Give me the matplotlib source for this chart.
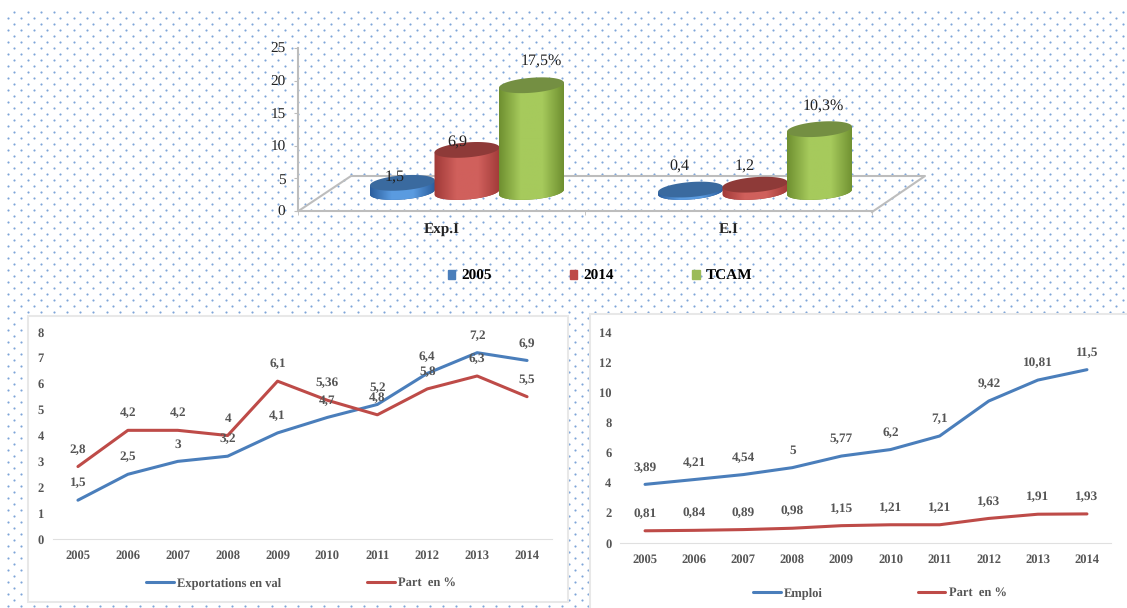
import numpy as np
import matplotlib
matplotlib.use("Agg")
import matplotlib.pyplot as plt
from matplotlib.patches import Patch, Rectangle

plt.rcParams['font.family'] = ['Liberation Serif', 'DejaVu Serif']
plt.rcParams['text.hinting'] = 'none'

W, H = 1127, 608

# top chart
groups = ["Exp.I", "E.I"]
bar_names = ["2005", "2014", "TCAM"]
val_2005 = [1.5, 0.4]
val_2014 = [6.9, 1.2]
val_tcam = [17.5, 10.3]
bar_labels = [["1,5", "0,4"], ["6,9", "1,2"], ["17,5%", "10,3%"]]

# bottom charts
years = list(range(2005, 2015))
export_val = [1.5, 2.5, 3, 3.2, 4.1, 4.7, 5.2, 6.4, 7.2, 6.9]
export_part = [2.8, 4.2, 4.2, 4, 6.1, 5.36, 4.8, 5.8, 6.3, 5.5]
emploi = [3.89, 4.21, 4.54, 5, 5.77, 6.2, 7.1, 9.42, 10.81, 11.5]
emploi_part = [0.81, 0.84, 0.89, 0.98, 1.15, 1.21, 1.21, 1.63, 1.91, 1.93]

BLUE = "#4a7ebb"
RED = "#be4b48"
GREY = "#555555"


def box(left, top, right, bottom, **kw):
    # axes from a box in pixels
    return fig.add_axes([left / W, 1 - bottom / H, (right - left) / W, (bottom - top) / H], **kw)


fig = plt.figure(figsize=(W / 100, H / 100), dpi=100)

# dotted background and white panels, in pixels
bg = box(0, 0, W, H)
bg.set_xlim(0, W)
bg.set_ylim(H, 0)
bg.axis("off")
for n, y in enumerate(np.arange(11.7, H, 6.0)):
    start = 14.3 if n % 2 == 0 else 7.5
    xs = np.arange(start, W, 13.2)
    bg.scatter(xs, [y] * len(xs), s=2.4, color="#7ea5d8", linewidths=0, zorder=1)
bg.add_patch(Rectangle((28, 316), 540, 286, fc="white", ec="#e8e8e8", lw=1.5, zorder=2))
bg.add_patch(Rectangle((590, 314), 545, 300, fc="white", ec="#e8e8e8", lw=1.5, zorder=2))

# floor of the 3d chart
floor_c = "#bdbdbd"
bg.plot([300, 351, 925, 872], [210, 176, 176, 212], color=floor_c, lw=1.5, zorder=3)

# front axes: y ticks and category labels
front = box(298, 48, 872, 211)
front.patch.set_alpha(0)
front.set_xlim(-0.5, 1.5)
front.set_ylim(0, 25)
front.set_yticks(range(0, 30, 5))
front.set_xticks([0, 1])
front.set_xticklabels(groups, fontweight="bold", fontsize=11, color="#222222")
front.set_xticks([-0.5, 0.5, 1.5], minor=True)
front.tick_params(axis="x", which="major", length=0, pad=9)
front.tick_params(axis="x", which="minor", length=3, color=floor_c)
front.tick_params(axis="y", length=3, color=floor_c, labelsize=11, labelcolor="#222222", pad=6)
for s in ("top", "right"):
    front.spines[s].set_visible(False)
for s in ("left", "bottom"):
    front.spines[s].set_color(floor_c)
    front.spines[s].set_linewidth(1.5)

# cylinders sit on a plane pushed back into the floor
SCALE = 6.1
depth = box(323, 48, 899, 212)
depth.patch.set_alpha(0)
depth.axis("off")
xunit = 288.0
rx = 32.5 / xunit
ry = 7.5 / SCALE
tilt = 2.5 / SCALE
t = np.linspace(0, 2 * np.pi, 100)
tb = np.linspace(np.pi, 2 * np.pi, 60)

styles = [
    ("#2c5f9e", "#5a9be0", "#3a6a9f"),
    ("#a23b39", "#d0605c", "#8e3a38"),
    ("#6f9030", "#a6ca5c", "#748f42"),
]
offsets = [
    [(-8, 5), (-11, 23)],
    [(-10, 7), (-10, 18)],
    [(10, 24), (4, 22)],
]
shift = [-1, 0, 1]

for k, vals in enumerate([val_2005, val_2014, val_tcam]):
    edge, mid, top_c = styles[k]
    grad = matplotlib.colors.LinearSegmentedColormap.from_list("c", [edge, mid, mid, edge])
    for g, v in enumerate(vals):
        cx = g + shift[k] * 64.5 / xunit
        # body outline: top edge then the lower half of the base ellipse
        bx = cx + rx * np.cos(tb)
        by = ry * np.sin(tb) + tilt * np.cos(tb)
        poly_x = np.r_[cx - rx, bx, cx + rx]
        poly_y = np.r_[v - tilt, by, v + tilt]
        body, = depth.fill(poly_x, poly_y, color=edge, lw=0, zorder=3 + k)
        im = depth.imshow(np.linspace(0, 1, 64)[None, :], cmap=grad, aspect="auto",
                          extent=(cx - rx, cx + rx, -3, v + 3), zorder=3 + k)
        im.set_clip_path(body)
        depth.fill(cx + rx * np.cos(t), v + ry * np.sin(t) + tilt * np.cos(t),
                   color=top_c, lw=0, zorder=3 + k)
        depth.annotate(bar_labels[k][g], (cx, v), xytext=offsets[k][g],
                       textcoords="offset pixels", ha="center", va="center",
                       fontsize=11.5, color="#222222", zorder=10, annotation_clip=False)
depth.set_xlim(-0.5, 1.5)
depth.set_ylim(-20 / SCALE, 144 / SCALE)

handles = [Patch(color=c, label=n) for c, n in zip([BLUE, RED, "#9bbb59"], bar_names)]
front.legend(handles=handles, ncols=3, loc="center", bbox_to_anchor=(600 / W, 1 - 276.5 / H),
             bbox_transform=fig.transFigure, frameon=False, handlelength=0.5, handleheight=0.5,
             handletextpad=0.4, columnspacing=5.1,
             prop={"weight": "bold", "size": 11})


def line_panel(ax, a, b, names, ymax, step, leg_pos, spacing):
    ax.patch.set_alpha(0)
    ax.plot(years, a, color=BLUE, lw=2.2, label=names[0], solid_capstyle="round")
    ax.plot(years, b, color=RED, lw=2.2, label=names[1], solid_capstyle="round")
    for s in ax.spines.values():
        s.set_visible(False)
    ax.spines["bottom"].set_visible(True)
    ax.spines["bottom"].set_color("#e0e0e0")
    ax.set_xlim(2004.5, 2014.5)
    ax.set_ylim(0, ymax)
    ax.set_xticks(years)
    ax.set_yticks(range(0, ymax + 1, step))
    ax.tick_params(axis="x", length=0, labelsize=9, labelcolor=GREY, pad=8)
    ax.tick_params(axis="y", length=0, labelsize=9, labelcolor=GREY, pad=6.5)
    for lab in ax.get_xticklabels() + ax.get_yticklabels():
        lab.set_fontweight("bold")
    for series in (a, b):
        for x, v in zip(years, series):
            ax.annotate(f"{v:g}".replace(".", ","), (x, v), xytext=(0, 17), textcoords="offset pixels",
                        ha="center", va="center", fontsize=9.5, fontweight="bold", color=GREY)
    ax.legend(ncols=2, loc="center", bbox_to_anchor=(leg_pos[0] / W, 1 - leg_pos[1] / H),
              bbox_transform=fig.transFigure, frameon=False, handlelength=2.2, handletextpad=0.25,
              columnspacing=spacing, labelcolor=GREY, prop={"weight": "bold", "size": 9})


left = box(53, 332, 552, 539)
line_panel(left, export_val, export_part, ["Exportations en val", "Part  en %"], 8, 1, (301, 583), 6.9)
right = box(620.5, 332, 1111.5, 543)
line_panel(right, emploi, emploi_part, ["Emploi", "Part  en %"], 14, 2, (880, 593), 7.6)

fig.savefig("out.png", dpi=100)
